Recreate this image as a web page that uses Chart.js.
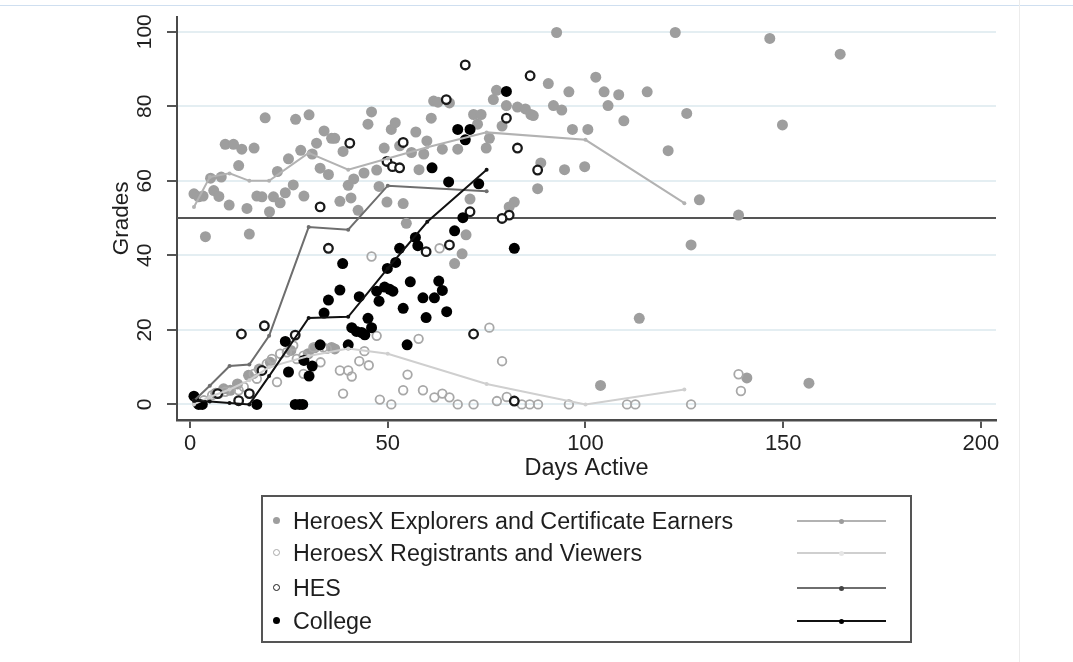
<!DOCTYPE html>
<html>
<head>
<meta charset="utf-8">
<script src="https://cdn.jsdelivr.net/npm/chart.js@4"></script>
<style>
  html, body { margin: 0; padding: 0; background: #fff; }
  #wrap { position: relative; width: 1073px; height: 662px; overflow: hidden; font-family: 'Liberation Sans', Arial, sans-serif; }
  #c { position: absolute; left: 0; top: 0; }
  #topline { position: absolute; left: 0; top: 5px; width: 1073px; height: 0; border-top: 1.5px solid #cfdff0; }
  #rightline { position: absolute; left: 1019px; top: 0; width: 0; height: 662px; border-left: 1px solid #ececec; }
  #legend { position: absolute; left: 261px; top: 495px; width: 647px; height: 144px; border: 2px solid #555; box-sizing: content-box; }
  .row { position: absolute; left: 0; width: 100%; height: 32px; }
  .row .txt { position: absolute; left: 30px; top: 50%; transform: translateY(-50%); font-size: 23.3px; color: #1e1e1e; white-space: nowrap; }
  .row .mk { position: absolute; left: 10px; top: 50%; width: 7px; height: 7px; margin-top: -4px; border-radius: 50%; box-sizing: border-box; }
  .row .ln { position: absolute; left: 534px; top: 50%; width: 89px; height: 0; margin-top: -1px; }
  .row .ln i { position: absolute; left: 42px; top: -3px; width: 5px; height: 5px; border-radius: 50%; }
</style>
</head>
<body>
<div id="wrap">
  <canvas id="c" width="1073" height="662"></canvas>
  <div id="topline"></div>
  <div id="rightline"></div>
  <div id="legend"></div>
</div>
<script>
// ---- tick labels / reference ----
const xTicks = [0, 50, 100, 150, 200];
const yTicks = [0, 20, 40, 60, 80, 100];
const refLine = 50;

// ---- series names ----
const seriesNames = ['HeroesX Explorers and Certificate Earners', 'HeroesX Registrants and Viewers', 'HES', 'College'];

// ---- scatter series: [days active, grade] ----
const explorers = [
  [1.0,56.5],[2.2,55.7],[3.3,55.9],[5.2,60.7],[6.0,57.4],[7.3,55.8],[7.9,61.0],[8.9,69.8],[11.0,69.8],[9.9,53.5],
  [12.3,64.1],[13.1,68.5],[14.4,52.6],[16.2,68.8],[16.9,55.9],[18.2,55.7],[19.0,76.9],[20.1,51.7],[21.1,55.7],[22.1,62.5],
  [22.8,54.1],[24.1,56.8],[24.9,65.9],[26.1,58.9],[26.7,76.5],[28.0,68.2],[28.8,55.9],[30.1,77.7],[30.9,67.2],[32.0,70.1],
  [32.9,63.4],[33.9,73.4],[35.0,61.7],[35.8,71.4],[36.6,71.4],[37.9,54.5],[38.7,67.9],[40.0,58.8],[40.7,55.4],[41.4,60.5],
  [42.5,52.1],[44.0,62.1],[45.0,75.2],[45.9,78.5],[47.2,62.9],[47.8,58.5],[49.1,68.8],[49.8,54.3],[50.9,73.8],[51.9,75.6],
  [53.0,69.4],[53.9,53.9],[56.0,67.6],[57.1,73.1],[57.9,63.0],[59.1,67.2],[59.9,70.7],[61.0,76.8],[61.6,81.4],[62.7,81.1],
  [63.8,68.5],[65.6,80.9],[67.7,68.5],[71.7,77.8],[73.6,77.8],[72.7,75.2],[74.9,68.8],[75.7,71.4],[76.7,81.8],[77.5,84.3],
  [78.9,74.7],[80.0,80.2],[82.8,79.8],[84.8,79.3],[86.2,77.8],[86.8,77.5],[88.7,64.8],[87.9,57.9],[82.0,54.3],[80.7,53.0],
  [70.8,55.1],[90.6,86.1],[91.9,80.2],[92.7,99.8],[94.0,79.0],[94.7,63.0],[95.8,83.9],[96.7,73.8],[99.8,63.8],[100.6,73.8],
  [102.6,87.8],[104.7,83.9],[105.7,80.2],[108.4,83.1],[109.7,76.1],[115.6,83.9],[122.7,99.8],[120.9,68.1],[125.6,78.1],[128.8,54.9],
  [146.6,98.2],[164.4,94.0],[149.8,75.0],[138.7,50.8],
  [3.9,45.0],[15.0,45.7],[54.7,48.6],[69.8,45.5],[68.8,40.4],[66.9,37.8],[113.6,23.1],[103.8,5.1],[126.7,42.8],[140.8,7.1],[156.5,5.7],
  [10.2,3.8],[14.8,7.8],[20.3,11.3],[29.9,13.6],[35.8,15.3],[36.6,14.9],[6.5,3.0],[8.5,4.2],[12.0,5.5],[17.5,9.5],[25.5,14.5],[31.5,15.2]
];
const registrants = [
  [1.8,0.3],[3.5,1.1],[5.6,2.5],[7.3,2.9],[8.9,3.4],[12.3,3.8],[13.6,4.7],[16.1,8.2],[16.9,6.9],[17.8,9.1],
  [19.4,10.9],[20.7,12.2],[22.0,6.0],[22.8,13.6],[24.5,14.0],[26.1,15.8],[27.0,12.2],[28.7,13.1],[28.7,8.2],[31.2,15.3],
  [33.0,11.3],[33.7,15.3],[34.6,14.9],[37.9,9.1],[40.0,9.1],[40.9,7.5],[38.7,2.9],[42.8,11.6],[44.1,14.3],[45.2,10.5],
  [45.9,39.7],[47.2,18.4],[48.0,1.3],[50.9,0],[53.9,3.8],[55.0,8.0],[57.8,17.6],[58.9,3.8],[61.8,1.9],[63.8,2.9],
  [65.6,1.9],[63.1,41.9],[67.7,0],[71.7,0],[75.7,20.6],[78.9,11.6],[77.6,0.9],[80.1,2.0],[83.9,0],[85.9,0],
  [88.0,0],[95.8,0],[110.5,0],[112.6,0],[126.7,0],[138.7,8.1],[139.3,3.6]
];
const hes = [
  [40.4,70.1],[32.9,53.0],[49.8,65.2],[51.2,63.8],[53.0,63.5],[53.9,70.3],[64.8,81.8],[69.6,91.1],[86.0,88.2],[80.0,76.8],
  [82.8,68.8],[87.9,62.9],[70.8,51.7],[80.7,50.8],[78.9,49.9],[35.0,41.9],[13.0,18.9],[18.8,21.1],[26.6,18.6],[18.2,9.1],
  [7.0,2.9],[12.3,1.0],[15.0,2.9],[59.7,41.0],[65.6,42.8],[71.7,18.9],[82.0,0.9]
];
const college = [
  [1.0,2.2],[2.2,0],[3.1,0],[16.9,0],[26.6,0],[27.7,0],[28.5,0],[24.1,16.9],[24.9,8.7],[28.8,11.8],
  [30.9,10.3],[30.1,7.6],[32.9,16.0],[33.9,24.5],[35.0,28.0],[37.9,30.7],[38.6,37.8],[40.0,16.0],[42.8,28.9],[40.9,20.6],
  [42.1,19.6],[43.4,19.3],[44.2,18.7],[45.9,20.6],[45.0,23.1],[47.2,30.4],[47.8,27.7],[49.2,31.5],[49.9,36.5],[50.5,30.9],
  [51.3,30.4],[52.0,38.1],[53.0,41.9],[53.9,25.8],[54.9,16.0],[55.7,32.9],[57.0,44.8],[57.6,42.6],[58.9,28.6],[59.7,23.3],
  [61.8,28.6],[62.9,33.1],[63.8,30.6],[64.9,24.9],[61.2,63.5],[65.4,59.7],[80.0,84.0],[67.7,73.8],[70.8,73.8],[69.6,71.0],
  [73.0,59.2],[69.0,50.1],[66.9,46.6],[82.0,41.9]
];

// ---- fitted lines: [days active, grade] ----
const explorersLine = [[1,53],[5,61],[10,62],[15,60],[20,60],[30,67.5],[40,63],[50,66],[60,69],[75,73],[100,71],[125,54]];
const registrantsLine = [[1,0],[5,2],[10,4],[15,6.5],[20,10],[30,13],[40,15],[50,13.6],[75,5.5],[100,0],[125,4]];
const hesLine = [[1,1],[5,5],[10,10.3],[15,10.7],[20,18.4],[30,47.6],[40,46.9],[50,58.7],[75,57.2]];
const collegeLine = [[1,1],[5,0.8],[10,0.4],[15,0],[20,7.6],[30,23.2],[40,23.5],[50,36.5],[60,49],[75,63]];

// ---- styles ----
const FONT = "'Liberation Sans', Arial, sans-serif";
const toXY = arr => arr.map(p => ({x: p[0], y: p[1]}));

const refLinePlugin = {
  id: 'refLine',
  beforeDatasetsDraw(chart) {
    const {ctx, chartArea} = chart;
    const y = chart.scales.y.getPixelForValue(refLine);
    ctx.save();
    ctx.strokeStyle = '#555';
    ctx.lineWidth = 2;
    ctx.beginPath();
    ctx.moveTo(chartArea.left, y);
    ctx.lineTo(chartArea.right, y);
    ctx.stroke();
    ctx.restore();
  }
};

function lineDs(data, color, order) {
  return { type: 'scatter', data: toXY(data), showLine: true, borderColor: color, backgroundColor: color,
           borderWidth: 2, pointRadius: 2, pointBorderWidth: 0, order: order, clip: false };
}

new Chart(document.getElementById('c'), {
  type: 'scatter',
  data: {
    datasets: [
      lineDs(collegeLine, '#111111', 1),
      lineDs(hesLine, '#6e6e6e', 2),
      lineDs(registrantsLine, '#cfcfcf', 3),
      lineDs(explorersLine, '#b2b2b2', 4),
      { data: toXY(college), pointRadius: 5.5, backgroundColor: '#000', borderWidth: 0, order: 5 },
      { data: toXY(hes), pointRadius: 4.3, backgroundColor: '#fff', borderColor: '#1a1a1a', borderWidth: 2.3, order: 6 },
      { data: toXY(registrants), pointRadius: 4.3, backgroundColor: 'rgba(255,255,255,0)', borderColor: '#a8a8a8', borderWidth: 1.8, order: 7 },
      { data: toXY(explorers), pointRadius: 5.5, backgroundColor: '#9e9e9e', borderWidth: 0, order: 8 }
    ]
  },
  options: {
    responsive: false,
    animation: false,
    events: [],
    layout: { padding: { left: 100, right: 77, top: 13, bottom: 172 } },
    plugins: { legend: { display: false }, tooltip: { enabled: false } },
    scales: {
      x: {
        type: 'linear',
        min: -3.29, max: 203.8,
        afterBuildTicks: s => { s.ticks = xTicks.map(v => ({value: v})); },
        afterFit: s => { s.height = 70; },
        grid: { display: true, drawOnChartArea: false, drawTicks: true, tickLength: 8, tickColor: '#555', lineWidth: 2 },
        border: { display: true, color: '#4a4a4a', width: 2.5 },
        ticks: { padding: 3, color: '#222', font: { family: FONT, size: 22 }, maxRotation: 0 },
        title: { display: true, text: 'Days Active', color: '#1e1e1e', font: { family: FONT, size: 23.5 }, padding: { top: 0, bottom: 7 } }
      },
      y: {
        type: 'linear',
        min: -4.18, max: 104.07,
        afterBuildTicks: s => { s.ticks = yTicks.map(v => ({value: v})); },
        afterFit: s => { s.width = 77; },
        grid: { display: true, drawOnChartArea: true, color: '#e4eef2', lineWidth: 2, tickLength: 10, tickColor: '#555' },
        border: { display: true, color: '#4a4a4a', width: 2 },
        ticks: { padding: 4, crossAlign: 'center', minRotation: 90, maxRotation: 90, color: '#222', font: { family: FONT, size: 21 } },
        title: { display: true, text: 'Grades', color: '#1e1e1e', font: { family: FONT, size: 22.5 }, padding: { top: 8, bottom: 0 } }
      }
    }
  },
  plugins: [refLinePlugin]
});

// ---- legend (HTML) ----
const legendMarkers = [
  { mk: 'background:#9e9e9e;', ln: '#b2b2b2', dot: '#9c9c9c' },
  { mk: 'border:1.3px solid #a8a8a8;background:#fff;', ln: '#cfcfcf', dot: '#e6e6e6' },
  { mk: 'border:1.8px solid #1a1a1a;background:#fff;', ln: '#6e6e6e', dot: '#444' },
  { mk: 'background:#000;', ln: '#111', dot: '#000' }
];
const rowCenters = [24, 56, 91, 124];
const lg = document.getElementById('legend');
seriesNames.forEach((name, i) => {
  const row = document.createElement('div');
  row.className = 'row';
  row.style.top = (rowCenters[i] - 16) + 'px';
  const m = legendMarkers[i];
  row.innerHTML = '<span class="mk" style="' + m.mk + '"></span>' +
                  '<span class="txt"></span>' +
                  '<span class="ln" style="border-top:2px solid ' + m.ln + ';"><i style="background:' + m.dot + ';"></i></span>';
  row.querySelector('.txt').textContent = name;
  lg.appendChild(row);
});
</script>
</body>
</html>
